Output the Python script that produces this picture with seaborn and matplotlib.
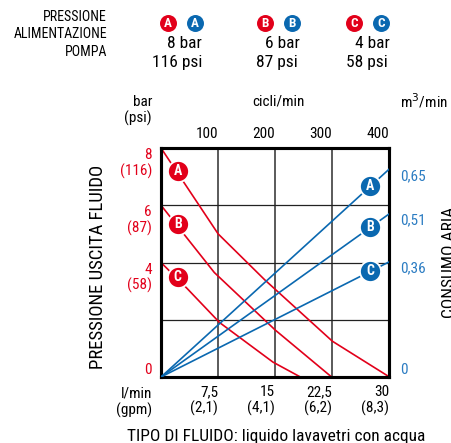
import numpy as np
import pandas as pd
import matplotlib
matplotlib.use("Agg")
import matplotlib.pyplot as plt
import seaborn as sns

# ---------------- data ----------------
pumps = ["A", "B", "C"]
supply_bar = [8, 6, 4]
supply_psi = [116, 87, 58]
air_m3 = [0.65, 0.51, 0.36]

flow_A = [0, 7.5, 13.6, 22.5, 30]
pres_A = [8, 5.0, 3.4, 1.25, 0]
flow_B = [0, 7.0, 15, 22.4]
pres_B = [6, 3.65, 1.64, 0]
flow_C = [0, 3.4, 7.7, 14.7, 18.3]
pres_C = [4, 3.1, 1.9, 0.52, 0]

x_ticks = [7.5, 15, 22.5, 30]
x_lmin = ["7,5", "15", "22,5", "30"]
x_gpm = ["(2,1)", "(4,1)", "(6,2)", "(8,3)"]
cycles = ["100", "200", "300", "400"]
y_ticks = [0, 2, 4, 6, 8]
y_labels = ["0", "", "4\n(58)", "6\n(87)", "8\n(116)"]
air_ticks = [0, 0.36, 0.51, 0.65]
air_labels = ["0", "0,36", "0,51", "0,65"]

RED = "#e2001a"
BLUE = "#0a68b0"
BLUE_TXT = "#2b7cc2"

sns.set_theme(style="white")
plt.rcParams["font.family"] = ["Roboto Condensed", "Archivo Narrow", "DejaVu Sans"]
plt.rcParams["font.weight"] = "normal"
plt.rcParams["text.color"] = "#000000"
plt.rcParams["xtick.color"] = "#000000"

W, H = 451, 443
fig = plt.figure(figsize=(W / 100, H / 100), dpi=100)

def fx(x):
    return x / W

def fy(y):
    return 1 - y / H

L, R, T, B = 161, 389.5, 148, 377
ax = fig.add_axes([fx(L), fy(B), (R - L) / W, (B - T) / H])
ax.set_xlim(0, 30)
ax.set_ylim(0, 8)

red_df = pd.concat([
    pd.DataFrame({"flow": flow_A, "pres": pres_A, "pump": "A"}),
    pd.DataFrame({"flow": flow_B, "pres": pres_B, "pump": "B"}),
    pd.DataFrame({"flow": flow_C, "pres": pres_C, "pump": "C"}),
])
sns.lineplot(data=red_df, x="flow", y="pres", hue="pump", units="pump",
             estimator=None, sort=False, palette=[RED] * 3, lw=1.2,
             legend=False, ax=ax, zorder=3)

# gridlines / ticks
ax.set_xticks(x_ticks)
ax.set_xticklabels([f"{a}\n{b}" for a, b in zip(x_lmin, x_gpm)], fontsize=11,
                   ha="right", linespacing=1.1)
ax.set_yticks(y_ticks)
ax.set_yticklabels(y_labels, fontsize=11, color=RED, linespacing=1.1)
for lab, v in zip(ax.get_yticklabels(), y_ticks):
    lab.set_verticalalignment("bottom" if v == 0 else "top")
ax.grid(axis="x", color="#5a5a5a", lw=1.4)
ax.grid(axis="y", color="#222222", lw=0.9)
ax.tick_params(axis="x", length=0, pad=6)
ax.tick_params(axis="y", length=0, pad=6.5)
ax.set_xlabel("")
ax.set_ylabel("")
for s in ax.spines.values():
    s.set_color("black")
    s.set_linewidth(2.2)
    s.set_zorder(6)

# top cycles axis
sec = ax.secondary_xaxis("top")
sec.set_xticks(x_ticks)
sec.set_xticklabels(cycles, fontsize=11, ha="right")
sec.tick_params(length=0, pad=5)
sec.spines["top"].set_visible(False)

# right air axis
ax2 = ax.twinx()
ax2.set_ylim(0, 0.715)
blue_df = pd.concat([
    pd.DataFrame({"flow": [0, 30], "air": [0, a], "pump": p})
    for p, a in zip(pumps, air_m3)
])
sns.lineplot(data=blue_df, x="flow", y="air", hue="pump", units="pump",
             estimator=None, sort=False, palette=[BLUE] * 3, lw=1.2,
             legend=False, ax=ax2, zorder=3)
ax2.set_yticks(air_ticks)
ax2.set_yticklabels(air_labels, fontsize=11, color=BLUE_TXT)
for lab, v in zip(ax2.get_yticklabels(), air_ticks):
    lab.set_verticalalignment("bottom" if v == 0 else "top")
ax2.tick_params(axis="y", length=0, pad=8)
ax2.set_xlabel("")
ax2.set_ylabel("")
ax2.grid(False)
for s in ax2.spines.values():
    s.set_color("black")
    s.set_linewidth(2.2)

# badges on curves
red_curves = [(flow_A, pres_A), (flow_B, pres_B), (flow_C, pres_C)]
bx = 2.2
for p, (fl, pr) in zip(pumps, red_curves):
    by = np.interp(bx, fl, pr) + 0.08
    ax.scatter([bx], [by], s=230, color=RED, edgecolor="white", linewidth=1.3, zorder=7, clip_on=False)
    ax.text(bx, by, p, color="white", fontsize=10, fontweight="bold", ha="center", va="center", zorder=8)
bxb = 27.5
for p, a in zip(pumps, air_m3):
    by = a * bxb / 30
    ax2.scatter([bxb], [by], s=230, color=BLUE, edgecolor="white", linewidth=1.3, zorder=7, clip_on=False)
    ax2.text(bxb, by, p, color="white", fontsize=10, fontweight="bold", ha="center", va="center", zorder=8)

# axis titles
fig.text(fx(152), fy(102), "bar", ha="right", va="center", fontsize=11)
fig.text(fx(152), fy(118), "(psi)", ha="right", va="center", fontsize=11)
fig.text(fx(278), fy(102), "cicli/min", ha="center", va="center", fontsize=11)
fig.text(fx(424), fy(101), "m$^3$/min", ha="center", va="center", fontsize=11)
fig.text(fx(152), fy(393), "l/min", ha="right", va="center", fontsize=11)
fig.text(fx(152), fy(410), "(gpm)", ha="right", va="center", fontsize=11)
fig.text(fx(98), fy(267), "PRESSIONE USCITA FLUIDO", rotation=90, ha="center", va="center", fontsize=13.5)
fig.text(fx(450), fy(262), "CONSUMO ARIA", rotation=90, ha="center", va="center", fontsize=12.5)
fig.text(fx(276), fy(436), "TIPO DI FLUIDO: liquido lavavetri con acqua", ha="center", va="center", fontsize=12.5)

# header
for txt, y in zip(["PRESSIONE", "ALIMENTAZIONE", "POMPA"], [17, 34.5, 52]):
    fig.text(fx(107), fy(y), txt, ha="right", va="center", fontsize=10)

ov = fig.add_axes([0, 0, 1, 1], zorder=10)
ov.set_xlim(0, W)
ov.set_ylim(H, 0)
ov.axis("off")
ov.patch.set_alpha(0)
red_x = [168, 265, 354]
blue_x = [195, 292, 381]
val_right = [202, 300, 390]
psi_right = [202, 298, 388]
for i, p in enumerate(pumps):
    for cx, col in ((red_x[i], RED), (blue_x[i], BLUE)):
        ov.scatter([cx], [23], s=175, color=col, edgecolor="white", linewidth=1.0)
        ov.text(cx, 23, p, color="white", fontsize=9.5, fontweight="bold", ha="center", va="center")
    ov.text(val_right[i], 43, f"{supply_bar[i]} bar", ha="right", va="center", fontsize=12.5)
    ov.text(psi_right[i], 62, f"{supply_psi[i]} psi", ha="right", va="center", fontsize=12.5)

fig.savefig("out.png", dpi=100)
